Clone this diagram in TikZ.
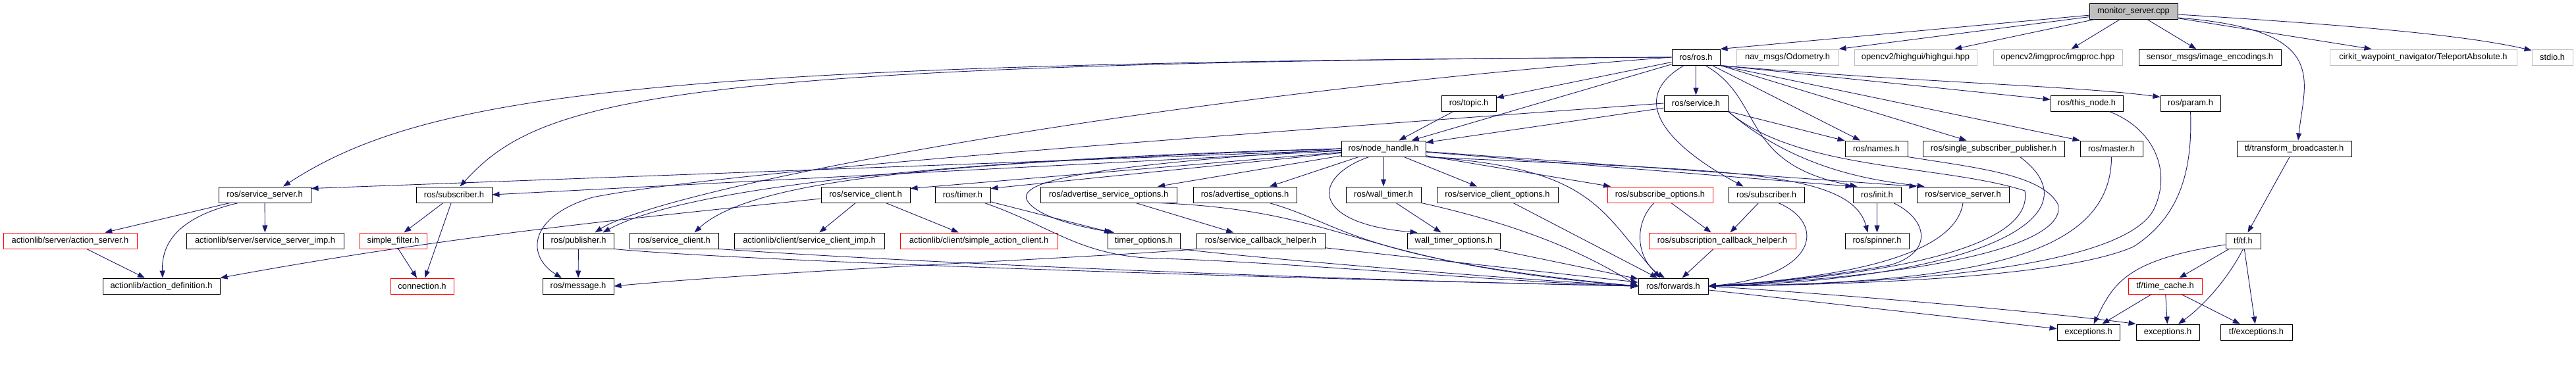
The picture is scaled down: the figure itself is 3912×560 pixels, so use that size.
\documentclass[tikz,border=0pt]{standalone}
\usepackage{fontspec}
\setmainfont{Liberation Sans}
\usetikzlibrary{arrows.meta}
\definecolor{edgecol}{HTML}{191970}
\definecolor{grayedge}{HTML}{BFBFBF}
\begin{document}
\begin{tikzpicture}[x=1pt,y=-1pt,
  nbox/.style={draw=black, line width=1pt, fill=white, minimum height=24pt, inner sep=0pt, font=\fontsize{12.9}{14}\selectfont},
  redbox/.style={nbox, draw=red},
  graybox/.style={nbox, draw=grayedge},
  mainbox/.style={nbox, fill=grayedge},
  conn/.style={draw=edgecol, line width=0.9pt, -{Triangle[length=11pt,width=8pt]}}]
\useasboundingbox (0,0) rectangle (3912,560);
% row 0
\node[mainbox, minimum width=134pt] (mon) at (3240,17) {monitor\_server.cpp};
% row 1
\node[nbox, minimum width=73pt] (ros) at (2575.5,87) {ros/ros.h};
\node[graybox, minimum width=155pt] (nav) at (2714.5,87) {nav\_msgs/Odometry.h};
\node[graybox, minimum width=186pt] (hig) at (2909,87) {opencv2/highgui/highgui.hpp};
\node[graybox, minimum width=196pt] (imp) at (3125,87) {opencv2/imgproc/imgproc.hpp};
\node[nbox, minimum width=216pt] (sen) at (3356,87) {sensor\_msgs/image\_encodings.h};
\node[graybox, minimum width=284pt] (cir) at (3680,87) {cirkit\_waypoint\_navigator/TeleportAbsolute.h};
\node[graybox, minimum width=62pt] (std) at (3876,87) {stdio.h};
% row 2
\node[nbox, minimum width=83pt] (top) at (2230.5,157) {ros/topic.h};
\node[nbox, minimum width=97pt] (srv) at (2575.5,157) {ros/service.h};
\node[nbox, minimum width=110pt] (thn) at (3169,157) {ros/this\_node.h};
\node[nbox, minimum width=91pt] (par) at (3326.5,157) {ros/param.h};
% row 3
\node[nbox, minimum width=128pt] (nh) at (2101,226) {ros/node\_handle.h};
\node[nbox, minimum width=95pt] (nam) at (2849.5,226) {ros/names.h};
\node[nbox, minimum width=215pt] (ssp) at (3027.5,226) {ros/single\_subscriber\_publisher.h};
\node[nbox, minimum width=95pt] (mas) at (3206.5,226) {ros/master.h};
\node[nbox, minimum width=174pt] (tfb) at (3484,226) {tf/transform\_broadcaster.h};
% row 4
\node[nbox, minimum width=140pt] (ssL) at (402,296) {ros/service\_server.h};
\node[nbox, minimum width=115pt] (subL) at (689.5,296) {ros/subscriber.h};
\node[nbox, minimum width=135pt] (scR) at (1314.5,296) {ros/service\_client.h};
\node[nbox, minimum width=84pt] (tim) at (1462,296) {ros/timer.h};
\node[nbox, minimum width=207pt] (aso) at (1683.5,296) {ros/advertise\_service\_options.h};
\node[nbox, minimum width=157pt] (ado) at (1890.5,296) {ros/advertise\_options.h};
\node[nbox, minimum width=114pt] (wt) at (2101,296) {ros/wall\_timer.h};
\node[nbox, minimum width=184pt] (sco) at (2274,296) {ros/service\_client\_options.h};
\node[redbox, minimum width=160pt] (sbo) at (2521,296) {ros/subscribe\_options.h};
\node[nbox, minimum width=115pt] (subR) at (2682.5,296) {ros/subscriber.h};
\node[nbox, minimum width=73pt] (ini) at (2850.5,296) {ros/init.h};
\node[nbox, minimum width=140pt] (ssR) at (2981,296) {ros/service\_server.h};
% row 5
\node[redbox, minimum width=203pt] (asv) at (106.5,366) {actionlib/server/action\_server.h};
\node[nbox, minimum width=239pt] (ssi) at (402.5,366) {actionlib/server/service\_server\_imp.h};
\node[redbox, minimum width=102pt] (sfl) at (597,366) {simple\_filter.h};
\node[nbox, minimum width=107pt] (pub) at (878.5,366) {ros/publisher.h};
\node[nbox, minimum width=135pt] (sc5) at (1023.5,366) {ros/service\_client.h};
\node[nbox, minimum width=228pt] (sci) at (1229,366) {actionlib/client/service\_client\_imp.h};
\node[redbox, minimum width=239pt] (sac) at (1486.5,366) {actionlib/client/simple\_action\_client.h};
\node[nbox, minimum width=110pt] (tio) at (1737,366) {timer\_options.h};
\node[nbox, minimum width=195pt] (sch) at (1914.5,366) {ros/service\_callback\_helper.h};
\node[nbox, minimum width=141pt] (wto) at (2207.5,366) {wall\_timer\_options.h};
\node[redbox, minimum width=223pt] (sbh) at (2615.5,366) {ros/subscription\_callback\_helper.h};
\node[nbox, minimum width=97pt] (spn) at (2850.5,366) {ros/spinner.h};
\node[nbox, minimum width=53pt] (tf) at (3406.5,366) {tf/tf.h};
% row 6
\node[nbox, minimum width=178pt] (adf) at (245,435) {actionlib/action\_definition.h};
\node[redbox, minimum width=96pt] (con) at (641,435) {connection.h};
\node[nbox, minimum width=108pt] (msg) at (878,435) {ros/message.h};
\node[nbox, minimum width=106pt] (fwd) at (2541,435) {ros/forwards.h};
\node[redbox, minimum width=112pt] (tca) at (3288,435) {tf/time\_cache.h};
% row 7
\node[nbox, minimum width=95pt] (ex1) at (3171.5,505) {exceptions.h};
\node[nbox, minimum width=96pt] (ex2) at (3292,505) {exceptions.h};
\node[nbox, minimum width=109pt] (tfe) at (3426.5,505) {tf/exceptions.h};

% monitor_server.cpp
\draw[conn] (mon) -- (ros.north east);
\draw[conn] (mon) -- (nav.north east);
\draw[conn] (mon) -- (hig);
\draw[conn] (mon) -- (imp);
\draw[conn] (mon) -- (sen);
\draw[conn] (mon) -- (cir);
\draw[conn] ([yshift=-5pt]mon.east) .. controls (3600,40) and (3750,55) .. ([yshift=-2pt]std.north west);
\draw[conn] ([yshift=-10pt]mon.east) .. controls (3540,45) and (3500,120) .. ([xshift=6pt]tfb.north);
% ros/ros.h
\draw[conn] (ros) -- (top);
\draw[conn] (ros) -- (nh);
\draw[conn] (ros) -- (srv);
\draw[conn] (ros.west) .. controls (1000,95) and (650,140) .. ([xshift=28pt]ssL.north);
\draw[conn] (ros.west) .. controls (1000,95) and (820,150) .. ([xshift=9pt]subL.north);
\draw[conn] (ros.west) .. controls (1700,150) and (1000,290) .. ([xshift=25pt]pub.north);
\draw[conn] (ros) -- (nam);
\draw[conn] ([xshift=14pt]ros.south) .. controls (2680,150) and (2640,250) .. ([xshift=-30pt]ini.north);
\draw[conn] (ros.south east) -- (thn);
\draw[conn] (ros.south east) .. controls (2900,125) and (3150,130) .. ([yshift=-3pt]par.north west);
\draw[conn] (ros.south east) -- (mas.north west);
\draw[conn] (ros.south east) -- (ssp);
\draw[conn] ([xshift=-18pt]ros.south) .. controls (2470,150) and (2530,220) .. ([xshift=-35pt]subR.north);
% ros/topic.h
\draw[conn] (top) -- (nh);
% ros/service.h
\draw[conn] (srv) -- (nh);
\draw[conn] (srv) -- (nam);
\draw[conn] (srv.west) .. controls (1800,210) and (1100,260) .. (900,300) .. controls (800,330) and (800,390) .. ([xshift=-25pt]msg.north);
\draw[conn] (srv.south east) .. controls (2730,260) and (2850,275) .. ([xshift=12pt]ssR.north west);
\draw[conn] (srv.south east) .. controls (2730,260) and (2950,250) .. (3075,290) .. controls (3090,380) and (2850,420) .. (fwd.east);
% ros/node_handle.h
\draw[conn] (nh) -- ([yshift=-3pt]ssL.north east);
\draw[conn] (nh) -- (subL.east);
\draw[conn] (nh.west) .. controls (1500,240) and (1050,280) .. ([xshift=37pt]pub.north);
\draw[conn] (nh.west) .. controls (1500,245) and (1150,265) .. ([xshift=31pt]sc5.north);
\draw[conn] (nh) -- ([yshift=-3pt]scR.north east);
\draw[conn] (nh) -- ([yshift=-3pt]tim.north east);
\draw[conn] (nh.west) .. controls (1700,250) and (1540,270) .. (1560,305) .. controls (1575,330) and (1640,345) .. ([xshift=-45pt]tio.north);
\draw[conn] (nh) -- (aso);
\draw[conn] (nh) -- (ado);
\draw[conn] (nh) -- (wt);
\draw[conn] ([xshift=-22pt]nh.south) .. controls (1990,270) and (1990,340) .. ([xshift=-55pt]wto.north);
\draw[conn] (nh) -- (sco);
\draw[conn] (nh) -- (sbo);
\draw[conn] (nh.south east) .. controls (2420,255) and (2430,320) .. ([xshift=-20pt]fwd.north);
\draw[conn] (nh) -- (ini.north west);
\draw[conn] (nh) -- (ssR.north west);
\draw[conn] (nh.south east) .. controls (2600,260) and (2810,255) .. ([xshift=-14pt]spn.north);
% left part
\draw[conn] (ssL) -- (asv);
\draw[conn] (ssL) -- (ssi);
\draw[conn] ([xshift=-40pt]ssL.south) .. controls (270,330) and (245,370) .. ([xshift=2pt]adf.north);
\draw[conn] (asv) -- (adf);
\draw[conn] (subL) -- (sfl);
\draw[conn] (subL) -- (con);
\draw[conn] (sfl) -- (con);
\draw[conn] (pub) -- (msg);
\draw[conn] (pub.south east) .. controls (1100,395) and (1800,420) .. (fwd.west);
\draw[conn] (sc5.south east) .. controls (1400,400) and (2000,425) .. (fwd.west);
\draw[conn] (scR) -- (sci);
\draw[conn] (scR) -- (sac);
\draw[conn] ([yshift=-6pt]scR.west) .. controls (1000,328) and (700,355) .. (adf.north east);
\draw[conn] (tim) -- (tio);
\draw[conn] ([xshift=33pt]tim.south) .. controls (1600,345) and (1640,390) .. (1760,393) .. controls (1950,398) and (2300,430) .. (fwd.west);
\draw[conn] (tio.south east) .. controls (1900,392) and (2300,425) .. (fwd.west);
\draw[conn] (aso) -- (sch);
\draw[conn] ([xshift=75pt]aso.south) .. controls (2050,320) and (2050,400) .. (fwd.west);
\draw[conn] ([xshift=37pt]ado.south) .. controls (2040,340) and (2060,395) .. (fwd.west);
\draw[conn] (sch.south west) .. controls (1700,390) and (1200,410) .. (msg.east);
\draw[conn] (sch) -- (fwd);
\draw[conn] (wt) -- (wto);
\draw[conn] (wt.south east) .. controls (2300,340) and (2400,380) .. (fwd.west);
\draw[conn] (wto) -- (fwd);
\draw[conn] (sco) -- (fwd);
\draw[conn] (sbo) -- (sbh);
\draw[conn] ([xshift=-9pt]sbo.south) .. controls (2480,340) and (2485,395) .. ([xshift=-13pt]fwd.north);
\draw[conn] (subR) -- (sbh);
\draw[conn] ([xshift=18pt]subR.south) .. controls (2775,340) and (2760,420) .. (fwd.east);
\draw[conn] (sbh) -- (fwd);
% right part into forwards
\draw[conn] (ini) -- (spn);
\draw[conn] ([xshift=25pt]ini.south) .. controls (2930,335) and (2935,385) .. (2870,403) .. controls (2780,420) and (2680,430) .. (fwd.east);
\draw[conn] (ssR.south) .. controls (2968,400) and (2750,425) .. (fwd.east);
\draw[conn] (nam.south east) .. controls (3000,255) and (3100,265) .. (3125,310) .. controls (3140,360) and (3000,415) .. (fwd.east);
\draw[conn] ([xshift=40pt]ssp.south) .. controls (3190,330) and (3000,425) .. (fwd.east);
\draw[conn] (mas.south) .. controls (3206,390) and (3000,430) .. (fwd.east);
\draw[conn] ([xshift=34pt]thn.south) .. controls (3270,195) and (3300,260) .. (3270,320) .. controls (3230,390) and (3000,430) .. (fwd.east);
\draw[conn] (par.south) .. controls (3330,260) and (3310,330) .. (3240,375) .. controls (3150,415) and (2900,432) .. (fwd.east);
% forwards
\draw[conn] (fwd) -- (ex1);
\draw[conn] (fwd.east) .. controls (2900,455) and (3150,480) .. (ex2.north west);
% tf
\draw[conn] (tfb) -- (tf);
\draw[conn] (tf) -- (tca);
\draw[conn] (tf.south) .. controls (3380,430) and (3340,470) .. ([xshift=16pt]ex2.north);
\draw[conn] (tf) -- (tfe);
\draw[conn] ([yshift=-6pt]tf.west) .. controls (3230,395) and (3210,430) .. ([xshift=8pt]ex1.north);
\draw[conn] (tca) -- (ex1);
\draw[conn] (tca) -- (ex2);
\draw[conn] (tca) -- (tfe);
\end{tikzpicture}
\end{document}
